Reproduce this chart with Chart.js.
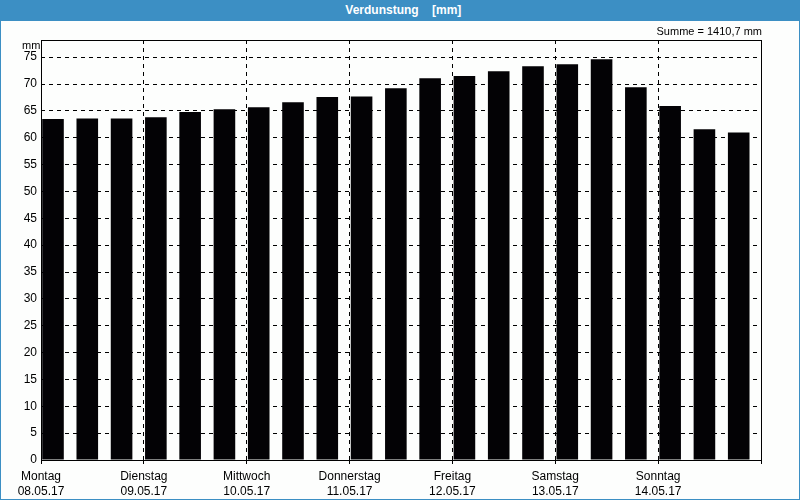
<!DOCTYPE html>
<html>
<head>
<meta charset="utf-8">
<script src="https://cdn.jsdelivr.net/npm/chart.js@4/dist/chart.umd.min.js"></script>
<style>
  html, body { margin: 0; padding: 0; background: #fdfefd; }
  #wrap { position: relative; width: 800px; height: 500px; box-sizing: border-box; overflow: hidden; background: #fdfefd; }
  #frame { position: absolute; left: 0; top: 0; width: 800px; height: 500px; box-sizing: border-box; border: 1px solid #3c8fc4; pointer-events: none; }
  #title { position: absolute; left: 0; top: 0; width: 800px; height: 21px; background: #3c8fc4; color: #fff;
           font: bold 12px "Liberation Sans", Arial, sans-serif; line-height: 21px; text-align: center; white-space: pre; }
  #summe { position: absolute; right: 38px; top: 25px; font: 11px "Liberation Sans", Arial, sans-serif; color: #000; }
  #unit { position: absolute; left: 22px; top: 39px; font: 11px "Liberation Sans", Arial, sans-serif; color: #000; }
  canvas { position: absolute; left: 0; top: 0; }
</style>
</head>
<body>
<div id="wrap">
  <canvas id="c" width="800" height="500"></canvas>
  <div id="title">  Verdunstung    [mm]</div>
  <div id="summe">Summe = 1410,7 mm</div>
  <div id="unit">mm</div>
  <div id="frame"></div>
</div>
<script>
const dayNames = ['Montag', 'Dienstag', 'Mittwoch', 'Donnerstag', 'Freitag', 'Samstag', 'Sonntag'];
const dayDates = ['08.05.17', '09.05.17', '10.05.17', '11.05.17', '12.05.17', '13.05.17', '14.05.17'];
// x position of each bar in 8-hour slots from Monday 00:00
const slotPositions = [0.35,1.35,2.35,3.35,4.35,5.35,6.35,7.35,8.35,9.35,10.35,11.35,12.35,13.35,14.35,15.35,16.35,17.35,18.35,19.35,20.35];
const evaporation = [63.5,63.6,63.6,63.8,64.8,65.3,65.7,66.6,67.6,67.7,69.2,71.1,71.5,72.4,73.3,73.7,74.6,69.4,65.9,61.6,61.0];
const yTicks = [0,5,10,15,20,25,30,35,40,45,50,55,60,65,70,75];

const points = slotPositions.map((x, i) => ({ x: x, y: evaporation[i] }));

const framePlugin = {
  id: 'framePlugin',
  afterDraw(chart) {
    const a = chart.chartArea, ctx = chart.ctx;
    ctx.save();
    ctx.strokeStyle = '#000';
    ctx.lineWidth = 1;
    ctx.setLineDash([]);
    ctx.strokeRect(Math.round(a.left) + 0.5, Math.round(a.top) + 0.5, Math.round(a.right - a.left), Math.round(a.bottom - a.top));
    ctx.restore();
  }
};

new Chart(document.getElementById('c'), {
  type: 'bar',
  data: {
    datasets: [{
      data: points,
      backgroundColor: '#030205',
      borderWidth: 0,
      barPercentage: 0.63,
      categoryPercentage: 1.0
    }]
  },
  options: {
    responsive: false,
    animation: false,
    layout: { padding: { top: 40, left: 0, right: 39, bottom: 0 } },
    plugins: { legend: { display: false }, tooltip: { enabled: false } },
    scales: {
      x: {
        type: 'linear',
        min: 0,
        max: 21,
        offset: false,
        afterFit(s) { s.height = 40; },
        afterBuildTicks(s) { s.ticks = [0,3,6,9,12,15,18,21].map(v => ({ value: v })); },
        ticks: {
          autoSkip: false,
          maxRotation: 0,
          padding: 5,
          color: '#000',
          font: { family: 'Liberation Sans', size: 12, lineHeight: 1.25 },
          callback(v) {
            const i = Math.round(v / 3);
            return i < dayNames.length ? [dayNames[i], dayDates[i]] : '';
          }
        },
        grid: { color: '#000', lineWidth: 1, tickLength: 4, drawOnChartArea: true, offset: false },
        border: { display: false, dash: [4, 4] }
      },
      y: {
        min: 0,
        max: 78.2,
        afterFit(s) { s.width = 41; },
        afterBuildTicks(s) { s.ticks = yTicks.map(v => ({ value: v })); },
        ticks: {
          padding: 4,
          color: '#000',
          font: { family: 'Liberation Sans', size: 12 }
        },
        grid: { color: '#000', lineWidth: 1, tickLength: 0 },
        border: { display: false, dash: [4, 4] }
      }
    }
  },
  plugins: [framePlugin]
});
</script>
</body>
</html>
